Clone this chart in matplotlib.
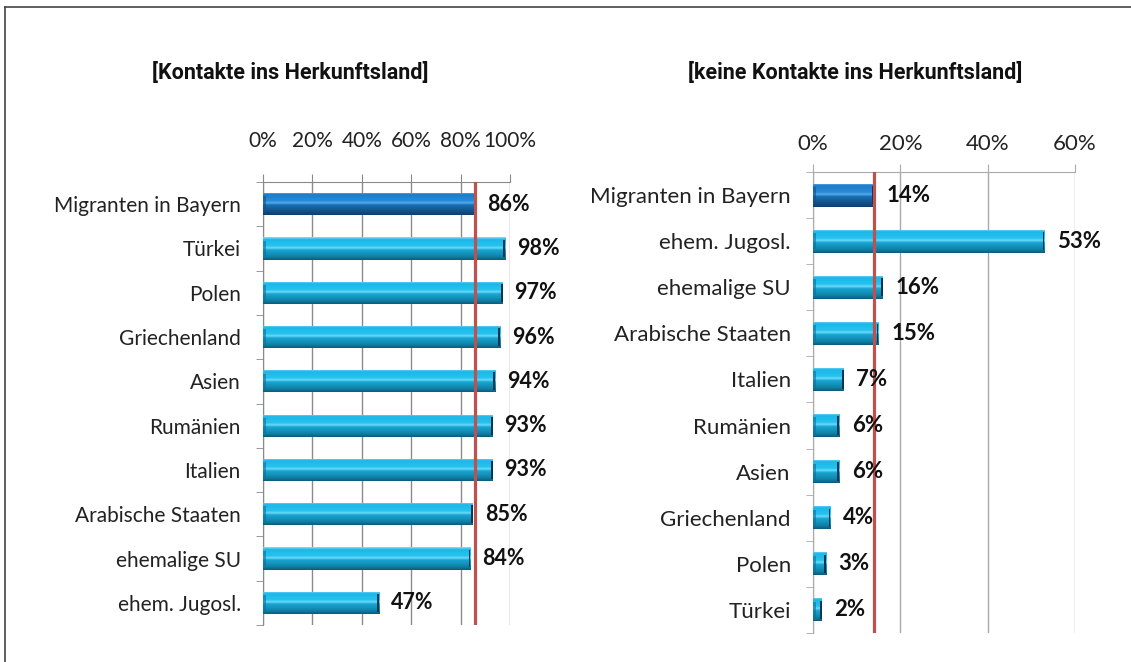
import matplotlib
matplotlib.use("Agg")
import matplotlib.pyplot as plt
import numpy as np
from matplotlib.colors import LinearSegmentedColormap
from matplotlib.lines import Line2D

# ---------------- data ----------------
left_title = "[Kontakte ins Herkunftsland]"
left_categories = ["Migranten in Bayern", "Türkei", "Polen", "Griechenland", "Asien",
                   "Rumänien", "Italien", "Arabische Staaten", "ehemalige SU", "ehem. Jugosl."]
left_values = [86, 98, 97, 96, 94, 93, 93, 85, 84, 47]
left_ref = 86
left_ticks = [0, 20, 40, 60, 80, 100]

right_title = "[keine Kontakte ins Herkunftsland]"
right_categories = ["Migranten in Bayern", "ehem. Jugosl.", "ehemalige SU", "Arabische Staaten",
                    "Italien", "Rumänien", "Asien", "Griechenland", "Polen", "Türkei"]
right_values = [14, 53, 16, 15, 7, 6, 6, 4, 3, 2]
right_ref = 14
right_ticks = [0, 20, 40, 60]

# ---------------- style ----------------
LABEL_FONT = ["Lato", "DejaVu Sans"]
RED = "#c0504d"

# index 0 = top of bar, 1 = bottom
cyan_cmap = LinearSegmentedColormap.from_list(
    "cyan", [(0.0, "#8fdcf5"), (0.1, "#1db7e8"), (0.38, "#25c2ef"), (0.47, "#6fdcf8"),
             (0.56, "#17a6d4"), (0.85, "#1082a6"), (1.0, "#0b5c7c")])
blue_cmap = LinearSegmentedColormap.from_list(
    "blue", [(0.0, "#76b6ea"), (0.1, "#1c7cc8"), (0.38, "#2a8ad6"), (0.47, "#55adf0"),
             (0.56, "#1a6fb3"), (0.85, "#124f86"), (1.0, "#0c3f70")])

W, H = 1131, 662
fig = plt.figure(figsize=(W / 100, H / 100), dpi=100)


def px_rect(x0, x1, ytop, ybot):
    return [x0 / W, 1 - ybot / H, (x1 - x0) / W, (ybot - ytop) / H]


def draw_panel(ax, cats, vals, ref, ticks, xmax, label_fs, tick_fs, grid_color,
               xpad, ypad):
    n = len(cats)
    y = np.arange(n)
    h = 0.5
    grad = np.linspace(0, 1, 64).reshape(-1, 1)
    bars = ax.barh(y, vals, height=h, color="none", edgecolor="none", zorder=3)
    for i, (rect, v) in enumerate(zip(bars, vals)):
        cmap = blue_cmap if i == 0 else cyan_cmap
        im = ax.imshow(grad, extent=[0, v, y[i] + h / 2, y[i] - h / 2], aspect="auto",
                       cmap=cmap, origin="upper", zorder=3, interpolation="bilinear")
        im.set_clip_path(rect)
        cap = xmax * 0.007
        ax.barh(y[i], cap, left=v - cap, height=h * 0.8, color="#0a3550", zorder=4)
        ax.barh(y[i], cap * 1.5, left=0, height=h * 0.7,
                color="#154f88" if i == 0 else "#0d6f98", alpha=0.6, zorder=4)
        ax.text(v + xmax * 0.048, y[i], f"{v}%", va="center", ha="left",
                fontsize=label_fs, fontweight="bold", color="#111111",
                family=LABEL_FONT, zorder=6)
    ax.set_xlim(0, xmax)
    ax.set_ylim(n - 0.5, -0.5)
    ax.axvline(ref, color=RED, lw=2.3, zorder=5)
    ax.xaxis.tick_top()
    ax.set_xticks(ticks)
    ax.set_xticklabels([f"{t}%" for t in ticks], fontsize=tick_fs, family=LABEL_FONT,
                       color="#222222")
    ax.tick_params(axis="x", direction="out", length=6, color=grid_color, pad=xpad)
    ax.set_yticks(y)
    ax.set_yticklabels(cats, fontsize=tick_fs, family=LABEL_FONT, color="#222222")
    ax.set_yticks(np.arange(n + 1) - 0.5, minor=True)
    ax.tick_params(axis="y", which="major", length=0, pad=ypad)
    ax.tick_params(axis="y", which="minor", direction="out", length=5, color=grid_color)
    ax.grid(axis="x", color=grid_color, lw=1.0, zorder=0)
    ax.set_axisbelow(True)
    for s in ["right", "bottom"]:
        ax.spines[s].set_visible(False)
    ax.spines["top"].set_color(grid_color)
    ax.spines["left"].set_color(grid_color)


axL = fig.add_axes(px_rect(263, 510, 182, 625))
draw_panel(axL, left_categories, left_values, left_ref, left_ticks, 100,
           15.5, 15, "#8a8a8a", 16, 16)

axR = fig.add_axes(px_rect(813, 1075, 172, 633))
draw_panel(axR, right_categories, right_values, right_ref, right_ticks, 60,
           16, 16, "#aaaaaa", 7, 16)

title_kw = dict(ha="center", va="center", fontsize=15.5, fontweight="bold",
                family=["Roboto", "DejaVu Sans"], color="#111111")
fig.text(290 / W, 1 - 73 / H, left_title, **title_kw)
fig.text(855 / W, 1 - 73 / H, right_title, **title_kw)

# outer frame (top and left edges)
fig.add_artist(Line2D([5 / W, 1.0], [1 - 7 / H, 1 - 7 / H], color="#444444", lw=1.2))
fig.add_artist(Line2D([5 / W, 5 / W], [0, 1 - 7 / H], color="#444444", lw=1.2))

fig.savefig("out.png", dpi=100)
